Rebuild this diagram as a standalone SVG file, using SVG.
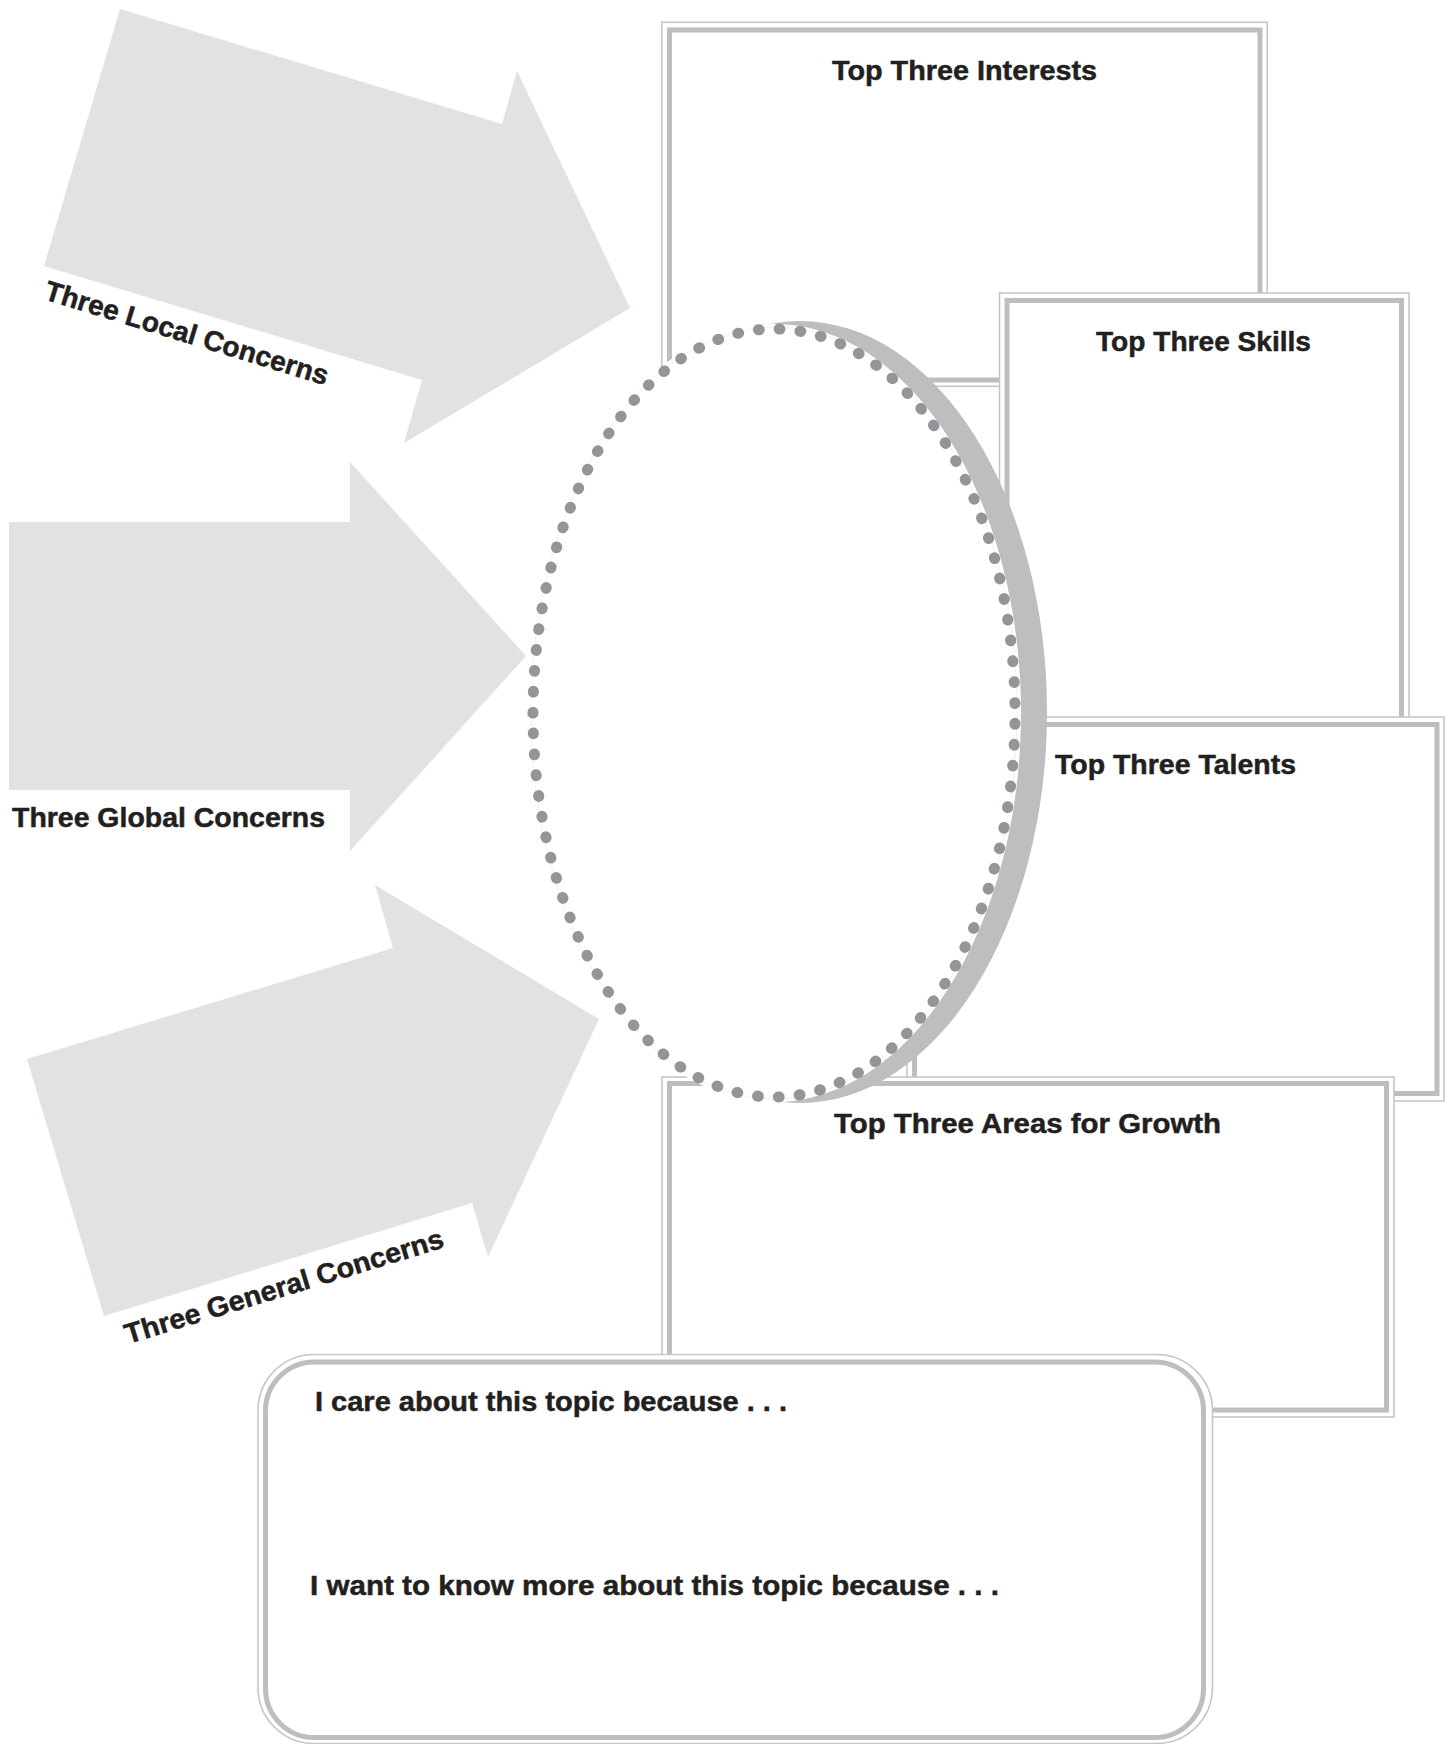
<svg xmlns="http://www.w3.org/2000/svg" width="1453" height="1744" viewBox="0 0 1453 1744">
<style>
.arrow{fill:#e1e2e3}
.outer{fill:#ffffff;stroke:#c5c6c8;stroke-width:1.6}
.inner{fill:none;stroke:#bcbec0;stroke-width:5}
.lbl{font-family:"Liberation Sans",Arial,sans-serif;font-weight:bold;font-size:28px;fill:#231f20;stroke:#231f20;stroke-width:0.5}
.mid{text-anchor:middle}
</style>
<rect x="0" y="0" width="1453" height="1744" fill="#ffffff"/>
<g id="connectors">
  <g id="arrow-local">
    <polygon class="arrow" points="120,9 502,124 517,71 630,308 404,443 422,380 44,266"/>
    <text class="lbl" transform="translate(43,299) rotate(17)" textLength="295" lengthAdjust="spacingAndGlyphs">Three Local Concerns</text>
  </g>
  <g id="arrow-global">
    <polygon class="arrow" points="9,522 350,522 350,462 526,656 350,851 350,790 9,790"/>
    <text class="lbl" x="12" y="827" textLength="313" lengthAdjust="spacingAndGlyphs">Three Global Concerns</text>
  </g>
  <g id="arrow-general">
    <polygon class="arrow" points="27,1059 393,948 375,885 599,1019 488,1257 472,1203 104,1316"/>
    <text class="lbl" transform="translate(128,1344) rotate(-17)" textLength="332" lengthAdjust="spacingAndGlyphs">Three General Concerns</text>
  </g>
</g>
<g id="box-interests">
  <rect class="outer" x="661.8" y="22.3" width="605.4" height="364"/>
  <rect class="inner" x="669.5" y="30" width="590.5" height="350"/>
  <text class="lbl mid" x="964.5" y="80" textLength="265" lengthAdjust="spacingAndGlyphs">Top Three Interests</text>
</g>
<g id="box-skills">
  <rect class="outer" x="999.5" y="293" width="409.5" height="440"/>
  <rect class="inner" x="1007" y="300.5" width="394.5" height="425"/>
  <text class="lbl mid" x="1203.5" y="351" textLength="215" lengthAdjust="spacingAndGlyphs">Top Three Skills</text>
</g>
<g id="box-talents">
  <rect class="outer" x="907" y="717" width="537" height="384"/>
  <rect class="inner" x="914.5" y="724.5" width="522.5" height="369"/>
  <text class="lbl mid" x="1175.5" y="774" textLength="241" lengthAdjust="spacingAndGlyphs">Top Three Talents</text>
</g>
<g id="box-growth">
  <rect class="outer" x="662" y="1077" width="732" height="340"/>
  <rect class="inner" x="669.5" y="1083.5" width="717" height="326.5"/>
  <text class="lbl mid" x="1027.5" y="1133" textLength="387" lengthAdjust="spacingAndGlyphs">Top Three Areas for Growth</text>
</g>
<g id="center-oval">
  <ellipse cx="800" cy="712" rx="247" ry="391" fill="#bcbec0"/>
  <ellipse cx="774" cy="713" rx="247" ry="389" fill="#ffffff"/>
  <ellipse cx="774" cy="713" rx="243" ry="386" fill="none" stroke="#eeeeef" stroke-width="0.8"/>
  <path d="M 533,713 A 241 384 0 1 1 1015,713 A 241 384 0 1 1 533,713 Z" pathLength="95" fill="none" stroke="#939598" stroke-width="11" stroke-linecap="round" stroke-dasharray="0.04 0.96"/>
</g>
<g id="box-reflection">
  <rect class="outer" x="258" y="1354.5" width="954.5" height="389" rx="56" ry="56"/>
  <rect class="inner" x="265.5" y="1362" width="938" height="375.5" rx="49" ry="49"/>
  <text class="lbl" x="315" y="1411" textLength="472" lengthAdjust="spacingAndGlyphs">I care about this topic because . . .</text>
  <text class="lbl" x="310" y="1595" textLength="689" lengthAdjust="spacingAndGlyphs">I want to know more about this topic because . . .</text>
</g>
</svg>
